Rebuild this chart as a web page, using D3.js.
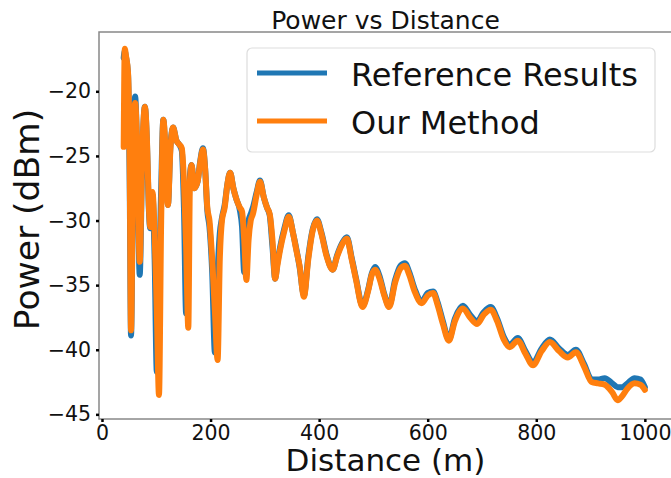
<!DOCTYPE html>
<html>
<head>
<meta charset="utf-8">
<script src="https://cdn.jsdelivr.net/npm/d3@7"></script>
<style>
  html, body { margin: 0; padding: 0; background: #fff; }
  svg { display: block; }
  text { font-family: "DejaVu Sans", sans-serif; fill: #111; }
</style>
</head>
<body>
<svg id="chart" width="671" height="478"></svg>
<script>
// ---- data ----
const distance = [40, 42, 44, 48, 51, 53.5, 57, 61, 65, 69.5, 74, 79, 83, 86, 89, 93, 97, 101, 105, 109,
  113, 117, 121.5, 126, 131, 137, 142, 147, 151, 155, 159, 162, 165, 170, 176, 181, 186, 190, 194, 198,
  203, 208, 213, 217, 221, 226, 231, 236, 242, 248, 254, 258, 262, 266, 270, 274, 278, 285, 291, 298,
  304, 309, 314, 319, 323, 328, 336, 344, 352, 358, 364, 372, 380, 388, 396, 404, 414, 425, 433, 443,
  451, 460, 468, 480, 490, 497, 503, 512, 520, 529, 540, 550, 558, 566, 576, 589, 600, 610, 618, 628,
  639, 650, 665, 678, 691, 703, 716, 728, 740, 751, 766, 780, 794, 810, 825, 842, 858, 873, 888, 902,
  914, 926, 940, 950, 958, 968, 981, 992, 1000];

const ourMethod = [-24.3, -16.7, -17.2, -18.6, -25.5, -38.5, -27, -20.9, -24.5, -33.2, -25, -21.2, -24, -28.5, -30.5, -27.8, -31, -37, -43.5, -30,
  -22.2, -24.5, -28.8, -24.5, -22.8, -23.8, -24.1, -24.4, -27, -32, -38.3, -27, -25.7, -27.5, -27, -25.5, -24.5, -26, -29, -30,
  -33, -37, -40.8, -33, -30, -29, -27.2, -26.3, -27.5, -28.4, -29, -29.3, -31.5, -34.6, -31.5, -30, -29.5, -28, -27.0, -28.2,
  -29, -29.5, -31.5, -34.5, -33.5, -32.3, -30.8, -29.7, -31, -32.3, -33.5, -35.9, -33, -30.8, -30, -31, -32.8, -33.8, -32.8, -31.8,
  -31.4, -33, -34.6, -36.7, -35.5, -34.2, -33.8, -34.6, -35.8, -36.7, -34.8, -33.7, -33.5, -34.2, -35.5, -36.4, -35.8, -35.6, -36.5, -38,
  -39.3, -37.8, -36.8, -37.5, -38, -37.3, -36.9, -37.8, -39.2, -39.8, -39.3, -40.3, -41.2, -40.1, -39.4, -40.1, -40.6, -40.2, -41.3, -42.5,
  -42.6, -42.7, -43.3, -43.9, -43.6, -43.0, -42.6, -42.7, -43.1];

const referenceResults = [-17.4, -16.9, -17.3, -18.7, -27, -38.9, -27.5, -20.4, -25, -34.2, -25.5, -21.2, -24.2, -28.8, -30.6, -28, -33, -41.7, -35, -27.5,
  -22.2, -24.8, -28.8, -24.3, -22.8, -23.8, -24.1, -24.6, -29, -37.2, -30, -26.5, -25.7, -27.5, -27, -25.4, -24.4, -26, -29.2, -30.5,
  -34, -40.2, -34, -31, -29.8, -28.8, -27.2, -26.3, -27.5, -28.4, -29.2, -30.5, -34, -31.5, -30, -29.5, -29, -27.8, -26.9, -28.2,
  -29, -29.6, -32, -34.5, -33.3, -32.1, -30.6, -29.6, -31, -32.2, -33.6, -35.8, -32.8, -30.7, -29.9, -30.9, -32.7, -33.8, -32.7, -31.7,
  -31.3, -32.9, -34.5, -36.6, -35.4, -34.1, -33.6, -34.4, -35.7, -36.6, -34.6, -33.5, -33.3, -34.0, -35.3, -36.3, -35.6, -35.5, -36.3, -37.8,
  -39.2, -37.6, -36.6, -37.3, -37.8, -37.1, -36.7, -37.6, -39.0, -39.6, -39.1, -40.1, -41.0, -39.9, -39.2, -39.9, -40.4, -40.0, -41.1, -42.3,
  -42.3, -42.2, -42.6, -42.9, -42.9, -42.6, -42.2, -42.3, -42.9];

const xTickValues = [0, 200, 400, 600, 800, 1000];
const yTickValues = [-20, -25, -30, -35, -40, -45];
const seriesNames = ["Reference Results", "Our Method"];
const seriesColors = ["#1f77b4", "#ff7f0e"];

// ---- layout ----
const svg = d3.select("#chart");
const plot = { left: 99, top: 32, right: 672, bottom: 419 };

const x = d3.scaleLinear().domain([-5.5, 1050]).range([plot.left, plot.right]);
const y = d3.scaleLinear().domain([-45.36, -15.41]).range([plot.bottom, plot.top]);

svg.append("defs").append("clipPath").attr("id", "plotclip")
  .append("rect").attr("x", plot.left).attr("y", plot.top)
  .attr("width", plot.right - plot.left).attr("height", plot.bottom - plot.top);

// lines
const line = d3.line().x((d, i) => x(distance[i])).y(d => y(d)).curve(d3.curveMonotoneX);
const series = [referenceResults, ourMethod];
const gLines = svg.append("g").attr("clip-path", "url(#plotclip)");
series.forEach((vals, k) => {
  gLines.append("path").datum(vals)
    .attr("d", line)
    .attr("fill", "none")
    .attr("stroke", seriesColors[k])
    .attr("stroke-width", 6)
    .attr("stroke-linejoin", "round")
    .attr("stroke-linecap", "round");
});

// frame
svg.append("rect").attr("x", plot.left).attr("y", plot.top)
  .attr("width", plot.right - plot.left).attr("height", plot.bottom - plot.top)
  .attr("fill", "none").attr("stroke", "#888").attr("stroke-width", 1.5);

// axes
const xAxis = d3.axisBottom(x).tickValues(xTickValues).tickSize(3).tickPadding(3)
  .tickFormat(d3.format("d"));
const gx = svg.append("g").attr("transform", `translate(0,${plot.bottom})`).call(xAxis);
gx.select(".domain").remove();
gx.selectAll(".tick line").attr("stroke", "#000").attr("stroke-width", 2.5);
gx.selectAll(".tick text").attr("font-size", 20.5).attr("font-family", "DejaVu Sans").attr("fill", "#111");

const yAxis = d3.axisLeft(y).tickValues(yTickValues).tickSize(3).tickPadding(5)
  .tickFormat(d => "\u2212" + Math.abs(d));
const gy = svg.append("g").attr("transform", `translate(${plot.left},0)`).call(yAxis);
gy.select(".domain").remove();
gy.selectAll(".tick line").attr("stroke", "#000").attr("stroke-width", 2.5);
gy.selectAll(".tick text").attr("font-size", 20.5).attr("font-family", "DejaVu Sans").attr("fill", "#111");

// title and axis labels
svg.append("text").attr("x", (plot.left + plot.right) / 2).attr("y", 29)
  .attr("text-anchor", "middle").attr("font-size", 25).text("Power vs Distance");
svg.append("text").attr("x", (plot.left + plot.right) / 2).attr("y", 471)
  .attr("text-anchor", "middle").attr("font-size", 31).text("Distance (m)");
svg.append("text").attr("transform", `translate(39,${(plot.top + plot.bottom) / 2 - 6}) rotate(-90)`)
  .attr("text-anchor", "middle").attr("font-size", 34.5).text("Power (dBm)");

// legend
const lg = svg.append("g");
lg.append("rect").attr("x", 247).attr("y", 48).attr("width", 408).attr("height", 104)
  .attr("rx", 5).attr("fill", "#fff").attr("fill-opacity", 0.85)
  .attr("stroke", "#ddd").attr("stroke-width", 1.2);
seriesNames.forEach((name, k) => {
  const cy = 73 + k * 48;
  lg.append("line").attr("x1", 257).attr("x2", 327).attr("y1", cy).attr("y2", cy)
    .attr("stroke", seriesColors[k]).attr("stroke-width", 5);
  lg.append("text").attr("x", 351).attr("y", cy + 13).attr("font-size", 32).text(name);
});
</script>
</body>
</html>
